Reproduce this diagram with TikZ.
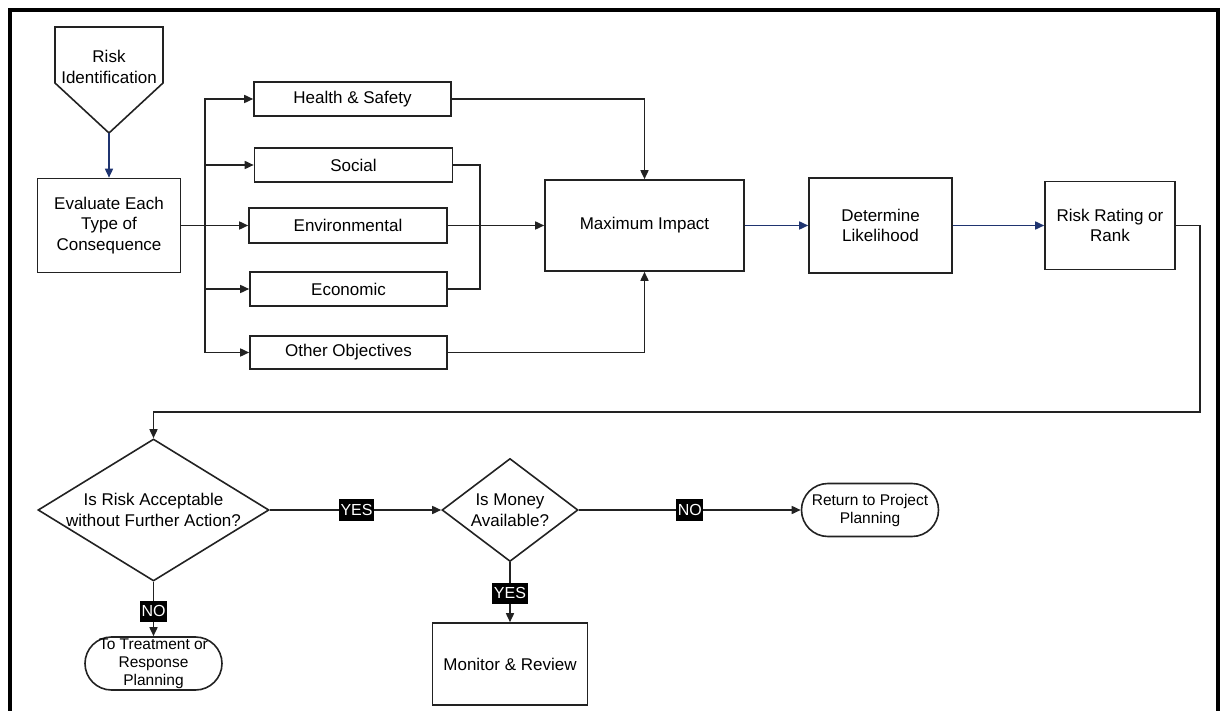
\documentclass[tikz,border=0pt]{standalone}
\usepackage{fontspec}
\setmainfont{Liberation Sans}
\usetikzlibrary{arrows.meta,shapes.geometric,calc}
\definecolor{linegray}{HTML}{222222}
\definecolor{navy}{HTML}{1F3470}
\begin{document}
\begin{tikzpicture}[x=1pt,y=-1pt,
  box/.style={draw=linegray, line width=1.6pt, inner sep=0pt, align=center,
    font=\fontsize{17}{20.5}\selectfont},
  txt/.style={inner sep=0pt, align=center, font=\fontsize{17}{20.5}\selectfont},
  ttxt/.style={inner sep=0pt, align=center, font=\fontsize{15.5}{18}\selectfont},
  decision/.style={draw=linegray, line width=1.6pt, shape=diamond, inner sep=0pt},
  terminal/.style={draw=linegray, line width=1.6pt, rectangle, rounded corners=26.5pt,
    minimum width=137pt, minimum height=53pt, inner sep=0pt},
  conn/.style={draw=linegray, line width=1.6pt},
  arr/.style={conn, -{Triangle[length=9pt,width=8pt]}},
  barr/.style={draw=navy, line width=1.6pt, -{Triangle[length=9pt,width=8pt]}},
  lbl/.style={fill=black, text=white, inner xsep=1.5pt, inner ysep=5pt,
    font=\fontsize{16}{16}\selectfont},
]
\useasboundingbox (0,0) rectangle (1221,711);

% outer frame (open at the bottom)
\draw[line width=4pt] (9.5,711) -- (9.5,10.5) -- (1218,10.5) -- (1218,711);

% off-page connector: Risk Identification
\draw[draw=linegray, line width=1.6pt] (55,27) -- (163,27) -- (163,83) -- (109,133) -- (55,83) -- cycle;
\node[txt] (riskid) at (109,67) {Risk\\Identification};
\coordinate (ridtip) at (109,133);

% process boxes, top row
\node[box, minimum width=143pt, minimum height=94pt] (eval) at (109,225.5) {Evaluate Each\\Type of\\Consequence};
\node[box, minimum width=197pt, minimum height=34pt] (hs)  at (352.5,99)   {Health \& Safety};
\node[box, minimum width=198pt, minimum height=34pt] (soc) at (353.5,165)  {Social};
\node[box, minimum width=198pt, minimum height=35pt] (env) at (348,225.5)  {Environmental};
\node[box, minimum width=197pt, minimum height=34pt] (eco) at (348.5,289)  {Economic};
\node[box, minimum width=197pt, minimum height=33pt] (oth) at (348.5,352.5) {Other Objectives};
\node[box, minimum width=199pt, minimum height=91pt] (maxi) at (644.5,225.5) {Maximum Impact};
\node[box, minimum width=143pt, minimum height=95pt] (det)  at (880.5,225.5) {Determine\\Likelihood};
\node[box, minimum width=130pt, minimum height=88pt] (rank) at (1110,225.5) {Risk Rating or\\Rank};

% decisions and outcomes, bottom row
\node[decision, minimum width=231pt, minimum height=142pt] (d1) at (153.5,510) {};
\node[txt] (d1t) at (d1) {Is Risk Acceptable\\without Further Action?};
\node[decision, minimum width=136pt, minimum height=103pt] (money) at (510,510) {};
\node[txt] (moneyt) at (money) {Is Money\\Available?};
\node[terminal] (ret) at (870,510) {};
\node[ttxt] (rett) at (ret) {Return to Project\\Planning};
\node[terminal] (treat) at (153.5,663.5) {};
\node[ttxt] (treatt) at (treat) {To Treatment or\\Response\\Planning};
\node[box, minimum width=155pt, minimum height=82pt] (mon) at (510,664) {Monitor \& Review};

% connectors
\draw[barr] (ridtip) -- (eval.north);
\coordinate (trunk) at (205,225.5);
\draw[conn] (eval.east) -- (trunk);
\draw[arr] (trunk) |- (hs.west);
\draw[arr] (trunk) |- (soc.west);
\draw[arr] (trunk) -- (env.west);
\draw[arr] (trunk) |- (eco.west);
\draw[arr] (trunk) |- (oth.west);

\draw[arr] (hs.east) -| (maxi.north);
\draw[conn] (soc.east) -- ++(26.5,0) |- (eco.east);
\draw[arr] (env.east) -- (maxi.west);
\draw[arr] (oth.east) -| (maxi.south);

\draw[barr] (maxi.east) -- (det.west);
\draw[barr] (det.east) -- (rank.west);

\coordinate (loopR) at (1200,412);
\draw[arr] (rank.east) -| (loopR) -| (d1.north);

\draw[arr] (d1.east) -- node[lbl, pos=0.506] (yes1) {YES} (money.west);
\draw[arr] (money.east) -- node[lbl, pos=0.5] (no2) {NO} (ret.west);
\draw[arr] (money.south) -- node[lbl, pos=0.52] (yes2) {YES} (mon.north);
\draw[arr] (d1.south) -- node[lbl, pos=0.54] (no1) {NO} (treat.north);
\end{tikzpicture}
\end{document}
